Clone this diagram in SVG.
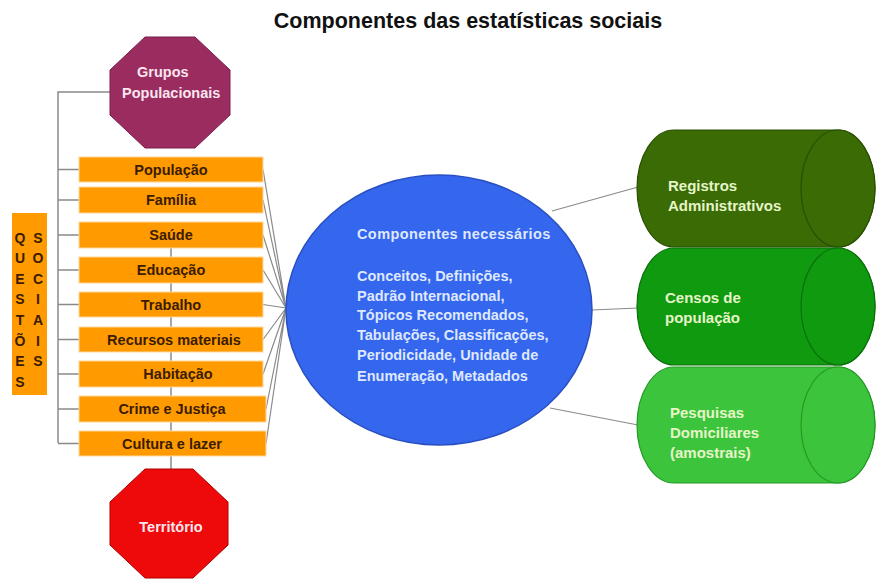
<svg xmlns="http://www.w3.org/2000/svg" width="877" height="579" viewBox="0 0 877 579">
<style>
  text { font-family: "Liberation Sans", Arial, sans-serif; }
  .title { font-size: 21.5px; font-weight: bold; fill: #111; }
  .box { fill: #ff9a00; stroke: #ffd79a; stroke-width: 1; }
  .boxt { font-size: 14.5px; font-weight: bold; fill: #3a1c00; text-anchor: middle; }
  .qs { font-size: 14px; font-weight: bold; fill: #3a1c00; text-anchor: middle; }
  .oct { font-size: 14.5px; font-weight: bold; fill: #fbe6ef; }
  .br { stroke: #8a8a8a; stroke-width: 1.5; fill: none; }
  .cn { stroke: #8a8a8a; stroke-width: 1.2; fill: none; }
  .ct { font-size: 14.5px; font-weight: bold; fill: #dfe8ff; }
  .cyt { font-size: 15px; font-weight: bold; fill: #e6f5c8; }
</style>
<rect width="877" height="579" fill="#ffffff"/>
<text class="title" x="468" y="28" text-anchor="middle">Componentes das estatísticas sociais</text>

<g id="connectors">
  <path class="br" d="M110 92 H58 V443"/>
  <path class="br" d="M58 169.5 H79 M58 200 H79 M58 235 H79 M58 270 H79 M58 304.5 H79 M58 339.5 H79 M58 374 H79 M58 409 H79 M58 443.5 H79"/>
  <path class="br" d="M171 235 V470"/>
  <path class="cn" d="M263 169.5 L286 308 M263 200 L286 308 M263 235 L286 308 M263 270 L286 308 M263 304.5 L286 308 M263 339.5 L286 308 M263 374 L286 308 M266 409 L286 308 M266 443.5 L286 308"/>
  <path class="cn" d="M552 211 L638 187 M592 310 L638 308 M550 408 L638 425"/>
</g>

<g id="questoes-sociais">
  <rect x="12" y="213" width="35" height="182" fill="#ff9a00"/>
  <text class="qs" x="20" y="243">Q</text>
  <text class="qs" x="20" y="263">U</text>
  <text class="qs" x="20" y="283.5">E</text>
  <text class="qs" x="20" y="304">S</text>
  <text class="qs" x="20" y="325">T</text>
  <text class="qs" x="20" y="345.5">Õ</text>
  <text class="qs" x="20" y="366">E</text>
  <text class="qs" x="20" y="387">S</text>
  <text class="qs" x="38" y="243">S</text>
  <text class="qs" x="38" y="263">O</text>
  <text class="qs" x="38" y="283.5">C</text>
  <text class="qs" x="38" y="304">I</text>
  <text class="qs" x="38" y="325">A</text>
  <text class="qs" x="38" y="345.5">I</text>
  <text class="qs" x="38" y="366">S</text>
</g>

<g id="grupos-populacionais">
  <polygon points="145,37 195,37 230,70 230,115 195,148 145,148 110,115 110,70" fill="#9a2c60" stroke="#7a1f4c" stroke-width="1"/>
  <text class="oct" x="137" y="77">Grupos</text>
  <text class="oct" x="122" y="98">Populacionais</text>
</g>

<g id="populacao"><rect class="box" x="79" y="157" width="184" height="25"/><text class="boxt" x="171" y="175">População</text></g>
<g id="familia"><rect class="box" x="79" y="187" width="184" height="26"/><text class="boxt" x="171" y="205">Família</text></g>
<g id="saude"><rect class="box" x="79" y="222" width="184" height="26"/><text class="boxt" x="171" y="240">Saúde</text></g>
<g id="educacao"><rect class="box" x="79" y="257" width="184" height="26"/><text class="boxt" x="171" y="275">Educação</text></g>
<g id="trabalho"><rect class="box" x="79" y="292" width="184" height="25"/><text class="boxt" x="171" y="309.5">Trabalho</text></g>
<g id="recursos-materiais"><rect class="box" x="79" y="327" width="184" height="25"/><text class="boxt" x="174" y="344.5">Recursos materiais</text></g>
<g id="habitacao"><rect class="box" x="79" y="361" width="184" height="26"/><text class="boxt" x="178" y="379">Habitação</text></g>
<g id="crime-justica"><rect class="box" x="79" y="396" width="187" height="26"/><text class="boxt" x="172" y="414">Crime e Justiça</text></g>
<g id="cultura-lazer"><rect class="box" x="79" y="431" width="187" height="25"/><text class="boxt" x="172" y="448.5">Cultura e lazer</text></g>

<g id="territorio">
  <polygon points="145,469 193,469 228,502 228,545 193,578 145,578 110,545 110,502" fill="#ee0a0a" stroke="#b00000" stroke-width="1"/>
  <text class="oct" x="171" y="532" text-anchor="middle" fill="#ffffff" font-size="15.5">Território</text>
</g>

<g id="componentes-necessarios">
  <ellipse cx="439" cy="310" rx="153" ry="135" fill="#3466ee" stroke="#2a4fc0" stroke-width="1.5"/>
  <text class="ct" x="357" y="239" font-weight="normal" font-size="15.5" letter-spacing="0.4">Componentes necessários</text>
  <text class="ct" x="357" y="281">Conceitos, Definições,</text>
  <text class="ct" x="357" y="301">Padrão Internacional,</text>
  <text class="ct" x="357" y="320">Tópicos Recomendados,</text>
  <text class="ct" x="357" y="340">Tabulações, Classificações,</text>
  <text class="ct" x="357" y="360">Periodicidade, Unidade de</text>
  <text class="ct" x="357" y="381">Enumeração, Metadados</text>
</g>

<g id="registros-administrativos">
  <path d="M674 130 H838 A37 58.5 0 0 1 838 247 H674 A37 58.5 0 0 1 674 130 Z" fill="#3a6b05" stroke="#2a4f02" stroke-width="1.2"/>
  <ellipse cx="838" cy="188.5" rx="37" ry="58.5" fill="#3a6b05" stroke="#2a4f02" stroke-width="1.2"/>
  <text class="cyt" x="668" y="191">Registros</text>
  <text class="cyt" x="668" y="211">Administrativos</text>
</g>

<g id="censos-populacao">
  <path d="M674 248 H838 A37 58.5 0 0 1 838 365 H674 A37 58.5 0 0 1 674 248 Z" fill="#0f9a0f" stroke="#0a700a" stroke-width="1.2"/>
  <ellipse cx="838" cy="306.5" rx="37" ry="58.5" fill="#0f9a0f" stroke="#0a700a" stroke-width="1.2"/>
  <text class="cyt" x="665" y="303">Censos de</text>
  <text class="cyt" x="665" y="323">população</text>
</g>

<g id="pesquisas-domiciliares">
  <path d="M674 367 H838 A37 58 0 0 1 838 483 H674 A37 58 0 0 1 674 367 Z" fill="#3cc43c" stroke="#249a24" stroke-width="1.2"/>
  <ellipse cx="838" cy="425" rx="37" ry="58" fill="#3cc43c" stroke="#249a24" stroke-width="1.2"/>
  <text class="cyt" x="670" y="418">Pesquisas</text>
  <text class="cyt" x="670" y="438">Domiciliares</text>
  <text class="cyt" x="670" y="458">(amostrais)</text>
</g>
</svg>
